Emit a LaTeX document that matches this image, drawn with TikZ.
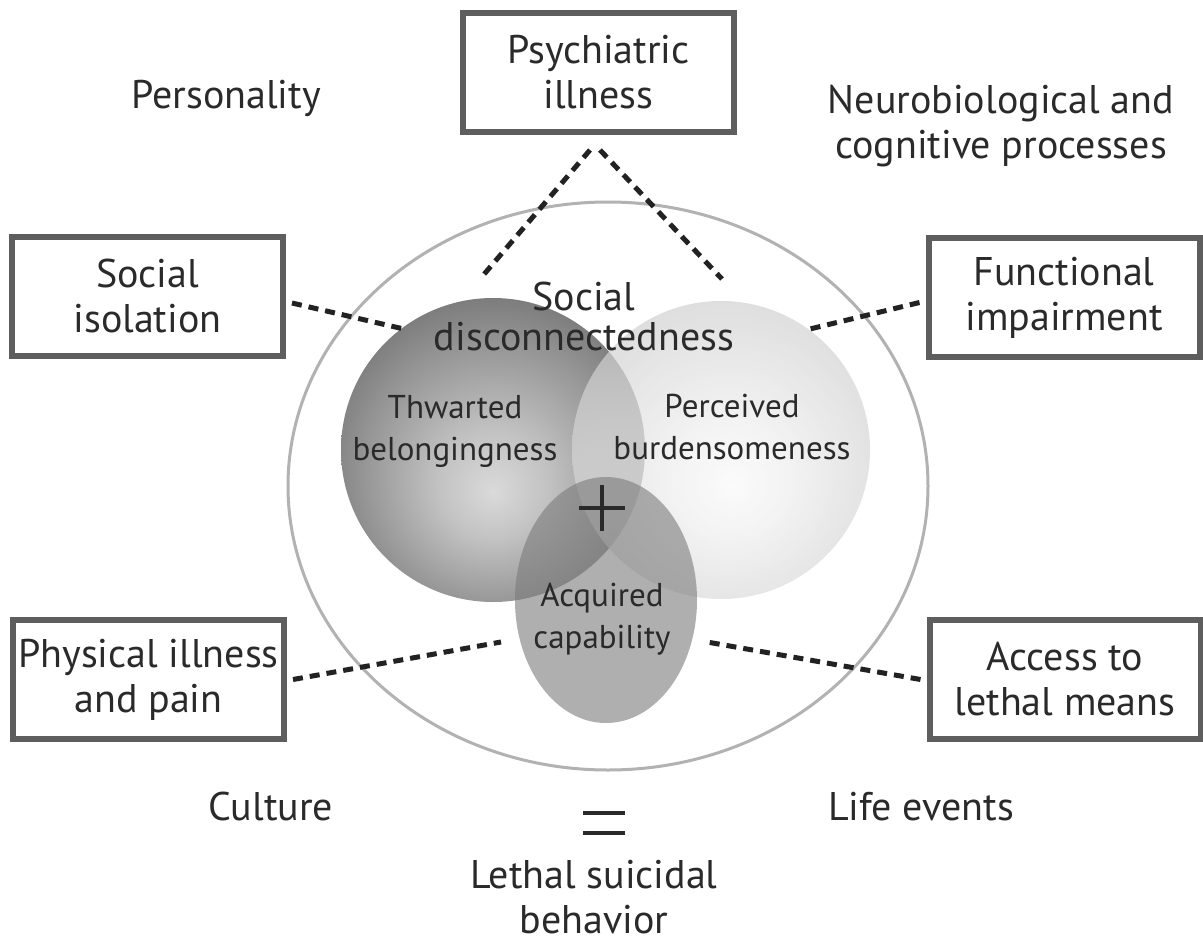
\documentclass[tikz,border=0pt]{standalone}
\usepackage{fontspec}
\setmainfont{PT Sans}
\usetikzlibrary{shapes.geometric}
\definecolor{txt}{HTML}{2A2A2A}
\definecolor{boxline}{HTML}{5E5E5E}
\definecolor{ringc}{HTML}{B2B2B2}
\definecolor{dashc}{HTML}{222222}
\definecolor{acqc}{HTML}{7B7B7B}
\definecolor{dA}{HTML}{DADADA}
\definecolor{dB}{HTML}{C2C2C2}
\definecolor{dC}{HTML}{979797}
\definecolor{dD}{HTML}{6E6E6E}
\definecolor{lA}{HTML}{FAFAFA}
\definecolor{lB}{HTML}{EEEEEE}
\definecolor{lC}{HTML}{D9D9D9}
\definecolor{lD}{HTML}{CACACA}
\pgfdeclareradialshading{darksph}{\pgfpoint{0bp}{-7bp}}{color(0bp)=(dA); color(9bp)=(dB); color(21bp)=(dC); color(32bp)=(dD); color(50bp)=(dD)}
\pgfdeclareradialshading{lightsph}{\pgfpoint{2bp}{-6bp}}{color(0bp)=(lA); color(10bp)=(lB); color(23bp)=(lC); color(32bp)=(lD); color(50bp)=(lD)}
\tikzset{
  outerbox/.style={draw=boxline, line width=6, fill=white, minimum width=271, minimum height=119, inner sep=0, align=center, text=txt, font=\fontsize{40}{45}\selectfont},
  label/.style={text=txt, font=\fontsize{40}{45}\selectfont, inner sep=0, align=center},
  inlabel/.style={text=txt, font=\fontsize{33}{42}\selectfont, inner sep=0, align=center},
  dl/.style={draw=dashc, line width=5, dash pattern=on 10 off 7},
  mathbar/.style={draw=txt, line width=4}
}
\begin{document}
\begin{tikzpicture}[x=1pt, y=-1pt]
\useasboundingbox[fill=white] (0,0) rectangle (1203,945);
% outer ring
\node[ellipse, draw=ringc, line width=3, minimum width=640, minimum height=568, inner sep=0] (ring) at (608,486) {};
% spheres
\node[circle, shading=darksph, minimum size=304, inner sep=0] (thw) at (493,450) {};
\node[circle, shading=lightsph, opacity=0.7, minimum size=298, inner sep=0] (per) at (721,450) {};
\node[ellipse, fill=acqc, opacity=0.6, minimum width=182, minimum height=246, inner sep=0] (acq) at (606,600) {};
% plus
\draw[mathbar] (579,508) -- (625,508);
\draw[mathbar] (602,485) -- (602,531);
% boxes
\node[outerbox] (psy) at (598.5,72.5) {Psychiatric\\illness};
\node[outerbox] (soc) at (147.5,296) {Social\\isolation};
\node[outerbox] (fun) at (1064,297.5) {Functional\\impairment};
\node[outerbox] (phy) at (148.5,679.5) {Physical illness\\and pain};
\node[outerbox] (acc) at (1065,679.5) {Access to\\lethal means};
% free labels
\node[label, anchor=base] (pers) at (226,108) {Personality};
\node[label] (neuro) at (1001,126) {Neurobiological and\\cognitive processes};
\node[label, anchor=base] (cult) at (271,820) {Culture};
\node[label, anchor=base] (life) at (921,820) {Life events};
\node[label] (lsb) at (594,897) {Lethal suicidal\\behavior};
% inner labels
\node[label, font=\fontsize{40}{40}\selectfont] (sd) at (584,316) {Social\\disconnectedness};
\node[inlabel] (tb) at (455,431) {Thwarted\\belongingness};
\node[inlabel] (pb) at (732,427) {Perceived\\burdensomeness};
\node[inlabel] (ac) at (602,619) {Acquired\\capability};
% equals
\draw[mathbar] (583,813) -- (625,813);
\draw[mathbar] (583,833) -- (625,833);
% connectors
\coordinate (pl) at (590,150);
\coordinate (pr) at (600,150);
\coordinate (plE) at (480,279);
\coordinate (prE) at (722,279);
\coordinate (phE) at (501,642);
\coordinate (acE) at (707,642);
\draw[dl] (pl) -- (plE);
\draw[dl] (pr) -- (prE);
\draw[dl] ([shift={(6,7)}]soc.east) -- (thw.127);
\draw[dl] ([shift={(-6,5)}]fun.west) -- (per.54);
\draw[dl] ([xshift=6]phy.east) -- (phE);
\draw[dl] ([xshift=-6]acc.west) -- (acE);
\end{tikzpicture}
\end{document}
